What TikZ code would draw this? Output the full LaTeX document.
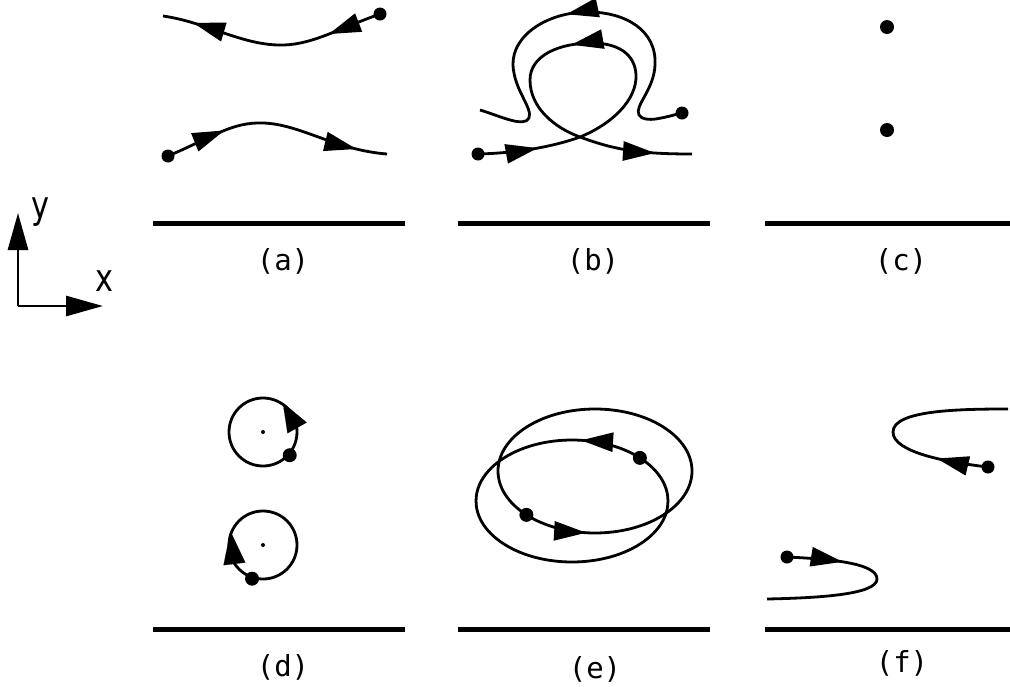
\documentclass[tikz,border=0pt]{standalone}
\usepackage{fontspec}
\newfontfamily\labelfont{DejaVu Sans Mono}
\newfontfamily\axisfont{DejaVu Sans}
\usetikzlibrary{arrows.meta,decorations.markings,calc}
\tikzset{
  curve/.style={line width=2.8pt},
  baseline/.style={line width=5pt},
  dot/.style={circle, fill=black, inner sep=0pt, minimum size=13pt},
  bigdot/.style={circle, fill=black, inner sep=0pt, minimum size=14pt},
  tinydot/.style={circle, fill=black, inner sep=0pt, minimum size=4pt},
  ring/.style={circle, draw, line width=2.8pt, inner sep=0pt, minimum size=68pt},
  arrowat/.style={postaction={decorate, decoration={markings,
      mark=at position #1 with {\arrow{Triangle[length=32pt,width=19pt]}}}}},
  chordtip/.style={line width=0.1pt, -{Triangle[length=#1,width=22pt]}},
  panellabel/.style={font=\labelfont\fontsize{29}{32}\selectfont, inner sep=0pt},
  axislabel/.style={font=\axisfont\fontsize{38}{42}\selectfont, inner sep=0pt},
  axis/.style={line width=2.8pt, -{Triangle[length=37pt,width=20pt]}}
}
\begin{document}
\begin{tikzpicture}[x=1pt, y=-1pt]
\useasboundingbox (0,0) rectangle (1010,686);

% axes
\coordinate (O) at (18,306);
\coordinate (Yend) at (18,213);
\coordinate (Xend) at (103,306);
\draw[axis] (O) -- (Yend);
\draw[axis] (O) -- (Xend);
\node[axislabel] (ylab) at (40,212) {\scalebox{0.8}[1]{y}};
\node[axislabel] (xlab) at (104,281) {\scalebox{0.8}[1]{x}};

% base lines
\draw[baseline] (153,223) -- (405,223);
\draw[baseline] (458,223) -- (710,223);
\draw[baseline] (765,223) -- (1010,223);
\draw[baseline] (153,629) -- (405,629);
\draw[baseline] (458,629) -- (710,629);
\draw[baseline] (765,629) -- (1010,629);

% labels
\node[panellabel] (la) at (283,261) {(a)};
\node[panellabel] (lb) at (593,261) {(b)};
\node[panellabel] (lc) at (901,261) {(c)};
\node[panellabel] (ld) at (283,667) {(d)};
\node[panellabel] (le) at (595,669) {(e)};
\node[panellabel] (lf) at (902,663) {(f)};

% (a)
\node[dot] (a1) at (168,156) {};
\draw[curve, arrowat=62pt, arrowat=-31pt] (a1.center)
  .. controls (215,136) and (232,122) .. (263,123)
  .. controls (300,124) and (335,150) .. (387,154);
\node[dot] (a2) at (380,14) {};
\draw[curve, arrowat=55pt, arrowat=-31pt] (a2.center)
  .. controls (335,30) and (310,46) .. (278,45)
  .. controls (240,44) and (205,22) .. (163,16);

% (b)
\node[dot] (b1) at (478,154) {};
\draw[curve, arrowat=60pt, arrowat=274pt, arrowat=-37pt] (b1.center)
  .. controls (520,153) and (555,146) .. (580,137)
  .. controls (612,124) and (637,100) .. (636,75)
  .. controls (635,52) and (615,43) .. (592,43)
  .. controls (560,43) and (530,55) .. (530,80)
  .. controls (530,108) and (555,128) .. (580,137)
  .. controls (615,150) and (640,154) .. (692,154);
\node[dot] (b2) at (682,113) {};
\draw[curve, arrowat=217pt] (b2.center)
  .. controls (665,117) and (645,124) .. (639,115)
  .. controls (634,106) and (654,90) .. (655,65)
  .. controls (657,30) and (625,12) .. (588,12)
  .. controls (548,12) and (512,35) .. (513,65)
  .. controls (514,90) and (533,108) .. (529,118)
  .. controls (524,128) and (500,116) .. (480,110);

% (c)
\node[bigdot] (c1) at (887,27) {};
\node[bigdot] (c2) at (887,130) {};

% (d)
\node[ring] (d1) at (263,432) {};
\node[tinydot] (d1c) at (d1.center) {};
\node[bigdot] (d1p) at (d1.-41) {};
\draw[chordtip=29pt] (d1.3) -- (d1.56);
\node[ring] (d2) at (263,545) {};
\node[tinydot] (d2c) at (d2.center) {};
\node[bigdot] (d2p) at (d2.-108) {};
\draw[chordtip=33pt] (d2.217) -- (d2.157);

% (e)
\coordinate (eA) at (595,471);
\coordinate (eB) at (572,501);
\path (eA) ++(135:97 and 62) node[bigdot] (e1) {};
\draw[curve, arrowat=63pt] (e1.center) arc[start angle=135, delta angle=-360, x radius=97, y radius=62];
\path (eB) ++(-45:96 and 61) node[bigdot] (e2) {};
\draw[curve, arrowat=62pt] (e2.center) arc[start angle=-45, delta angle=-360, x radius=96, y radius=61];

% (f)
\node[dot] (f1) at (988,467) {};
\draw[curve, arrowat=52pt] (f1.center)
  .. controls (945,462) and (893,452) .. (893,432)
  .. controls (893,410) and (960,409) .. (1008,409);
\node[dot] (f2) at (787,557) {};
\draw[curve, arrowat=56pt] (f2.center)
  .. controls (830,559) and (877,563) .. (877,579)
  .. controls (877,595) and (815,598) .. (767,599);
\end{tikzpicture}
\end{document}
